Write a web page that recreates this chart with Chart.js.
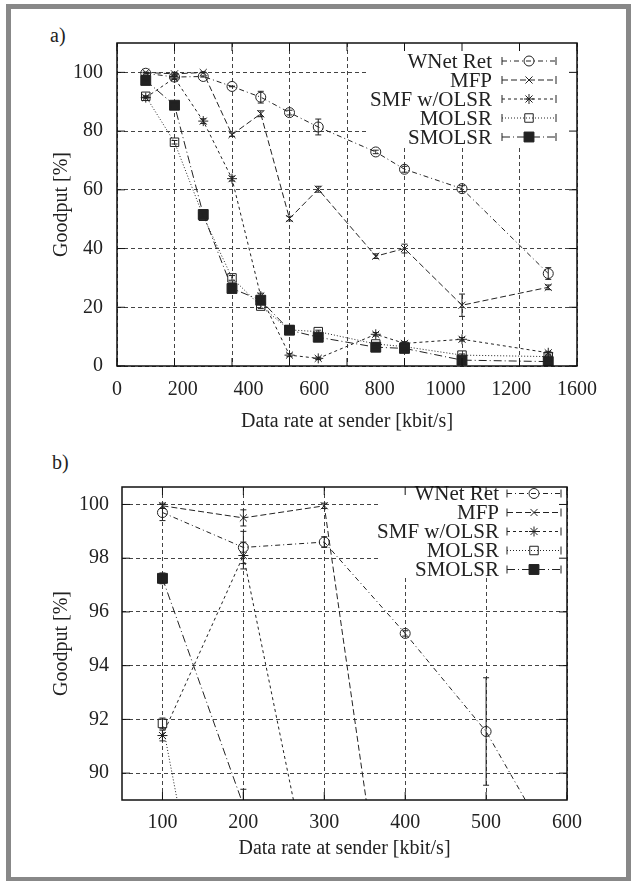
<!DOCTYPE html>
<html>
<head>
<meta charset="utf-8">
<script src="https://cdn.jsdelivr.net/npm/chart.js@4.4.1/dist/chart.umd.min.js"></script>
<style>
  html, body { margin: 0; padding: 0; background: #fff; }
  body { width: 636px; height: 881px; position: relative; overflow: hidden; font-family: "Liberation Serif", serif; }
  #frame { position: absolute; left: 6px; top: 4px; width: 615px; height: 868px; border: 5px solid #888; }
  canvas { position: absolute; left: 0; }
  .tag { position: absolute; font-size: 20px; line-height: 20px; color: #222; }
</style>
</head>
<body>
<div id="frame"></div>
<div class="tag" style="left:50px; top:25px;">a)</div>
<div class="tag" style="left:52px; top:452px;">b)</div>
<canvas id="chartA" width="636" height="440" style="top:0; width:636px; height:440px;"></canvas>
<canvas id="chartB" width="636" height="441" style="top:440px; width:636px; height:441px;"></canvas>

<script>
// sender data rates (kbit/s), same for every protocol
const rates = [100, 200, 300, 400, 500, 600, 700, 900, 1000, 1200, 1500];

// goodput in %
const wnetRet = [99.7, 98.4, 98.6, 95.2, 91.55, 86.3, 81.4, 72.9, 67.0, 60.4, 31.5];
const mfp     = [99.95, 99.5, 99.95, 78.8, 85.9, 50.2, 60.2, 37.4, 40.0, 20.7, 26.8];
const smfOlsr = [91.4, 98.1, 83.4, 63.8, 23.8, 3.7, 2.6, 10.8, 7.7, 9.1, 4.5];
const molsr   = [91.85, 76.2, 51.0, 30.0, 20.4, 12.3, 11.7, 7.5, 6.6, 3.7, 3.2];
const smolsr  = [97.25, 88.8, 51.6, 26.4, 22.4, 12.2, 9.8, 6.4, 6.0, 2.0, 1.5];

// error bars (+/- %)
const wnetErr   = [0.3, 0.6, 0.2, 0.1, 2.0, 0.8, 2.7, 0.6, 1.0, 1.0, 2.0];
const mfpErr    = [0.1, 0.3, 0.1, 0.6, 1.0, 0.8, 1.0, 0.8, 1.5, 3.8, 0.8];
const smfErr    = [0.2, 0.5, 0.8, 0.8, 1.0, 0.5, 0.4, 0.6, 0.6, 0.6, 0.5];
const molsrErr  = [0.2, 0.6, 0.8, 0.8, 0.8, 0.5, 0.5, 0.4, 0.4, 0.4, 0.3];
const smolsrErr = [0.2, 0.6, 0.8, 0.8, 0.8, 0.5, 0.5, 0.4, 0.4, 0.3, 0.3];

// ticks
const gridXa = [0, 200, 400, 600, 800, 1000, 1200, 1400, 1600];
const labelsXa = ['0', '200', '400', '600', '800', '1000', '1200', '1600'];
const ticksYa = [0, 20, 40, 60, 80, 100];
const ticksXb = [100, 200, 300, 400, 500, 600];
const ticksYb = [90, 92, 94, 96, 98, 100];

const INK = '#222';
Chart.defaults.font.family = '"Liberation Serif", serif';
Chart.defaults.font.size = 20;
Chart.defaults.color = INK;

function series() {
  const defs = [
    { label: 'WNet Ret',    values: wnetRet, errors: wnetErr,   dash: [5, 3, 1, 3], style: 'circle',   r: 5, fill: 'rgba(0,0,0,0)' },
    { label: 'MFP',         values: mfp,     errors: mfpErr,    dash: [6, 3],       style: 'crossRot', r: 5, fill: 'rgba(0,0,0,0)' },
    { label: 'SMF w/OLSR',  values: smfOlsr, errors: smfErr,    dash: [3, 3],       style: 'star',     r: 5, fill: 'rgba(0,0,0,0)' },
    { label: 'MOLSR',       values: molsr,   errors: molsrErr,  dash: [1, 2],       style: 'rect',     r: 6, fill: 'rgba(0,0,0,0)' },
    { label: 'SMOLSR',      values: smolsr,  errors: smolsrErr, dash: [8, 3, 1, 3], style: 'rect',     r: 7, fill: INK }
  ];
  return defs.map(s => ({
    label: s.label,
    data: rates.map((x, i) => ({ x: x, y: s.values[i] })),
    errors: s.errors,
    xAxisID: 'x', yAxisID: 'y',
    borderColor: INK, borderWidth: 1, borderDash: s.dash,
    pointStyle: s.style, pointRadius: s.r, pointHoverRadius: s.r,
    pointBorderColor: INK, pointBorderWidth: 1, pointBackgroundColor: s.fill,
    tension: 0, fill: false, clip: 0
  }));
}

// gnuplot look: key box, error bars, border and inward tick marks
const gnuplotFrame = {
  id: 'gnuplotFrame',
  beforeDatasetsDraw(chart, args, opts) {
    const ctx = chart.ctx, k = opts.key, a = chart.chartArea;
    ctx.save();
    ctx.fillStyle = '#fff';
    ctx.fillRect(k.left, a.top, a.right - k.left, k.bottom - a.top);
    ctx.font = '21px "Liberation Serif", serif';
    ctx.textAlign = 'right';
    ctx.textBaseline = 'middle';
    ctx.lineWidth = 1;
    ctx.strokeStyle = INK;
    chart.data.datasets.forEach((ds, i) => {
      const y = k.row0 + i * k.step;
      ctx.fillStyle = INK;
      ctx.fillText(ds.label, k.textRight, y + 1);
      ctx.setLineDash(ds.borderDash);
      ctx.beginPath(); ctx.moveTo(k.x1, y); ctx.lineTo(k.x2, y); ctx.stroke();
      ctx.setLineDash([]);
      ctx.beginPath();
      ctx.moveTo(k.x1, y - 4); ctx.lineTo(k.x1, y + 4);
      ctx.moveTo(k.x2, y - 4); ctx.lineTo(k.x2, y + 4);
      ctx.stroke();
      ctx.fillStyle = ds.pointBackgroundColor;
      Chart.helpers.drawPoint(ctx, { pointStyle: ds.pointStyle, radius: ds.pointRadius, rotation: 0, borderWidth: 1 }, (k.x1 + k.x2) / 2, y);
    });
    ctx.restore();
  },
  afterDatasetsDraw(chart) {
    const ctx = chart.ctx, a = chart.chartArea, xs = chart.scales.x, ys = chart.scales.y;
    ctx.save();
    ctx.beginPath(); ctx.rect(a.left, a.top, a.width, a.height); ctx.clip();
    ctx.strokeStyle = INK; ctx.lineWidth = 1;
    chart.data.datasets.forEach(ds => {
      ds.data.forEach((p, i) => {
        const e = ds.errors[i];
        const x = xs.getPixelForValue(p.x);
        const y1 = ys.getPixelForValue(p.y - e), y2 = ys.getPixelForValue(p.y + e);
        ctx.beginPath();
        ctx.moveTo(x, y1); ctx.lineTo(x, y2);
        ctx.moveTo(x - 3, y1); ctx.lineTo(x + 3, y1);
        ctx.moveTo(x - 3, y2); ctx.lineTo(x + 3, y2);
        ctx.stroke();
      });
    });
    ctx.restore();

    ctx.save();
    ctx.strokeStyle = '#111';
    ctx.lineWidth = 1.5;
    ctx.strokeRect(a.left, a.top, a.width, a.height);
    ctx.lineWidth = 1;
    ctx.beginPath();
    xs.ticks.forEach(t => {
      const x = xs.getPixelForValue(t.value);
      ctx.moveTo(x, a.bottom); ctx.lineTo(x, a.bottom - 8);
      ctx.moveTo(x, a.top); ctx.lineTo(x, a.top + 8);
    });
    ys.ticks.forEach(t => {
      const y = ys.getPixelForValue(t.value);
      ctx.moveTo(a.left, y); ctx.lineTo(a.left + 8, y);
      ctx.moveTo(a.right, y); ctx.lineTo(a.right - 8, y);
    });
    ctx.stroke();
    ctx.restore();
  }
};

const gridOpts = { color: '#444', lineWidth: 1, drawTicks: false };
const borderOpts = { display: false, dash: [4, 3] };

// a) full range
new Chart(document.getElementById('chartA'), {
  type: 'line',
  data: { datasets: series() },
  options: {
    responsive: false, animation: false,
    layout: { padding: { top: 43, right: 59, left: 0, bottom: 0 } },
    plugins: {
      legend: { display: false }, tooltip: { enabled: false },
      gnuplotFrame: { key: { left: 369, bottom: 145, textRight: 492, row0: 61, step: 19, x1: 502, x2: 556 } }
    },
    scales: {
      x: {
        type: 'linear', min: 0, max: 1600,
        afterBuildTicks: s => { s.ticks = gridXa.map(v => ({ value: v })); },
        afterFit: s => { s.height = 0; },
        ticks: { display: false }, grid: gridOpts, border: borderOpts
      },
      xl: {
        type: 'category', position: 'bottom', labels: labelsXa, min: 0, max: labelsXa.length - 1, offset: false,
        grid: { display: false, drawTicks: false }, border: { display: false },
        ticks: { padding: 12, autoSkip: false, maxRotation: 0 },
        title: { display: true, text: 'Data rate at sender [kbit/s]', padding: { top: 0, bottom: 6 } },
        afterFit: s => { s.height = 74; }
      },
      y: {
        type: 'linear', min: 0, max: 110,
        afterBuildTicks: s => { s.ticks = ticksYa.map(v => ({ value: v })); },
        afterFit: s => { s.width = 117; },
        ticks: { padding: 14 }, grid: gridOpts, border: borderOpts,
        title: { display: true, text: 'Goodput [%]', padding: { top: 50, bottom: 0 } }
      }
    }
  },
  plugins: [gnuplotFrame]
});

// b) zoom on the top of the range
new Chart(document.getElementById('chartB'), {
  type: 'line',
  data: { datasets: series() },
  options: {
    responsive: false, animation: false,
    layout: { padding: { top: 47, right: 69, left: 0, bottom: 0 } },
    plugins: {
      legend: { display: false }, tooltip: { enabled: false },
      gnuplotFrame: { key: { left: 378, bottom: 137, textRight: 499, row0: 53.5, step: 19, x1: 507, x2: 561 } }
    },
    scales: {
      x: {
        type: 'linear', min: 50, max: 600,
        afterBuildTicks: s => { s.ticks = ticksXb.map(v => ({ value: v })); },
        afterFit: s => { s.height = 81; },
        ticks: { padding: 11 }, grid: gridOpts, border: borderOpts,
        title: { display: true, text: 'Data rate at sender [kbit/s]', padding: { top: 0, bottom: 20 } }
      },
      y: {
        type: 'linear', min: 89, max: 100.65,
        afterBuildTicks: s => { s.ticks = ticksYb.map(v => ({ value: v })); },
        afterFit: s => { s.width = 122; },
        ticks: { padding: 13 }, grid: gridOpts, border: borderOpts,
        title: { display: true, text: 'Goodput [%]', padding: { top: 50, bottom: 0 } }
      }
    }
  },
  plugins: [gnuplotFrame]
});
</script>
</body>
</html>
